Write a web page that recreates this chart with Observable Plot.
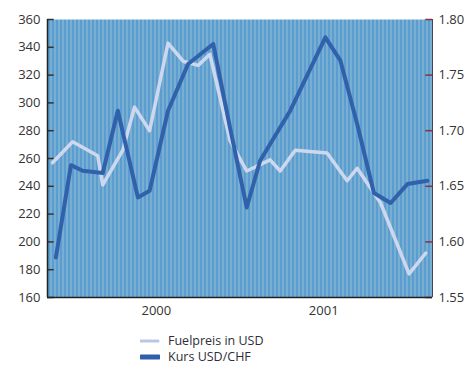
<!DOCTYPE html>
<html>
<head>
<meta charset="utf-8">
<script src="https://cdn.jsdelivr.net/npm/d3@7"></script>
<script src="https://cdn.jsdelivr.net/npm/@observablehq/plot@0.6"></script>
<style>
  body { margin: 0; background: #fff; font-family: "Open Sans", "Noto Sans", sans-serif; }
  #chart svg { display: block; }
  .legend { padding: 13px 0 0 140px; font-size: 12.5px; color: #2e2e38; }
  .legend div { display: flex; align-items: center; height: 16px; overflow: hidden; }
  .legend span { line-height: 14px; display: block; }
  .legend svg { margin-right: 8px; }
</style>
</head>
<body>
<div id="chart"></div>
<script>
// Fuel price (USD, left axis), sampled as decimal years
const fuelYear = [1999.38, 1999.50, 1999.65, 1999.68, 1999.80, 1999.87, 1999.96, 2000.07, 2000.16, 2000.25, 2000.32, 2000.44, 2000.54, 2000.68, 2000.74, 2000.83, 2001.02, 2001.14, 2001.20, 2001.34, 2001.40, 2001.51, 2001.61];
const fuelUSD  = [257, 272, 262, 241, 266, 297, 280, 343, 330, 327, 335, 273, 251, 259, 251, 266, 264, 244, 253, 228, 210, 177, 192];

// Exchange rate USD/CHF (right axis)
const kursYear = [1999.40, 1999.49, 1999.56, 1999.68, 1999.77, 1999.89, 1999.96, 2000.07, 2000.19, 2000.34, 2000.44, 2000.54, 2000.62, 2000.80, 2001.01, 2001.10, 2001.20, 2001.30, 2001.40, 2001.50, 2001.62];
const kursCHF  = [1.586, 1.669, 1.664, 1.662, 1.718, 1.640, 1.646, 1.718, 1.760, 1.778, 1.703, 1.631, 1.673, 1.718, 1.784, 1.763, 1.706, 1.644, 1.635, 1.652, 1.655];

const leftTicks  = [160, 180, 200, 220, 240, 260, 280, 300, 320, 340, 360];
const rightTicks = [1.55, 1.60, 1.65, 1.70, 1.75, 1.80];
const yearTicks  = [2000, 2001];
const seriesNames = ["Fuelpreis in USD", "Kurs USD/CHF"];

const xDomain = [1999.35, 2001.65];
const yDomain = [160, 360];
const kDomain = [1.55, 1.80];

// map the exchange rate onto the fuel-price scale so both share one plot
const toLeft = d3.scaleLinear().domain(kDomain).range(yDomain);

const fuel = fuelYear.map((t, i) => ({t, v: fuelUSD[i]}));
const kurs = kursYear.map((t, i) => ({t, v: toLeft(kursCHF[i])}));

const tickLen = 0.04; // in years, short inward tick marks

const plot = Plot.plot({
  width: 471,
  height: 320,
  marginTop: 19,
  marginBottom: 23,
  marginLeft: 47,
  marginRight: 39,
  style: {fontFamily: "'Open Sans', 'Noto Sans', sans-serif", fontSize: "13px", color: "#333"},
  x: {domain: xDomain},
  y: {domain: yDomain},
  marks: [
    Plot.frame({fill: "url(#stripes)", stroke: null}),
    Plot.axisX({ticks: yearTicks, tickFormat: "d", tickSize: 0, tickPadding: 8, label: null, fontSize: 13}),
    Plot.axisY({ticks: leftTicks, tickSize: 0, tickPadding: 7, label: null, fontSize: 13}),
    Plot.axisY({anchor: "right", ticks: rightTicks.map(toLeft), tickFormat: d => toLeft.invert(d).toFixed(2), tickSize: 0, tickPadding: 6, label: null, fontSize: 13}),
    Plot.ruleY(leftTicks, {y: d => d, x1: xDomain[0], x2: xDomain[0] + tickLen, stroke: "#333", strokeWidth: 1.5}),
    Plot.ruleY(rightTicks.map(toLeft), {y: d => d, x1: xDomain[1] - tickLen, x2: xDomain[1], stroke: "#8a3040", strokeWidth: 1.5}),
    Plot.line(fuel, {x: "t", y: "v", stroke: "#cdd8ee", strokeWidth: 3.5, strokeLinejoin: "round"}),
    Plot.line(kurs, {x: "t", y: "v", stroke: "#3161ab", strokeWidth: 4, strokeLinejoin: "round"}),
    Plot.ruleX([xDomain[0]], {stroke: "#222", strokeWidth: 1.5}),
    Plot.ruleX([xDomain[1]], {stroke: "#445", strokeWidth: 1}),
    Plot.ruleY([yDomain[0]], {stroke: "#222", strokeWidth: 1.5})
  ]
});

// vertical stripe fill for the plot area
const svg = d3.select(plot);
const pat = svg.insert("defs", ":first-child")
  .append("pattern")
  .attr("id", "stripes")
  .attr("patternUnits", "userSpaceOnUse")
  .attr("width", 4).attr("height", 4);
[["#4a93d2", 0], ["#68a9d2", 1], ["#82b8d0", 2], ["#74a2d0", 3]].forEach(([c, x]) =>
  pat.append("rect").attr("x", x).attr("y", 0).attr("width", 1).attr("height", 4).attr("fill", c));

document.getElementById("chart").append(plot);

// legend below the chart
const legend = d3.select("body").append("div").attr("class", "legend");
const swatches = [
  {name: seriesNames[0], color: "#b9c6e4", h: 3, dash: "2,1"},
  {name: seriesNames[1], color: "#2f5fab", h: 5, dash: null}
];
swatches.forEach(s => {
  const row = legend.append("div");
  const sw = row.append("svg").attr("width", 20).attr("height", 8);
  sw.append("line").attr("x1", 1).attr("x2", 19).attr("y1", 4).attr("y2", 4)
    .attr("stroke", s.color).attr("stroke-width", s.h).attr("stroke-linecap", "round")
    .attr("stroke-dasharray", s.dash);
  row.append("span").text(s.name);
});
</script>
</body>
</html>
